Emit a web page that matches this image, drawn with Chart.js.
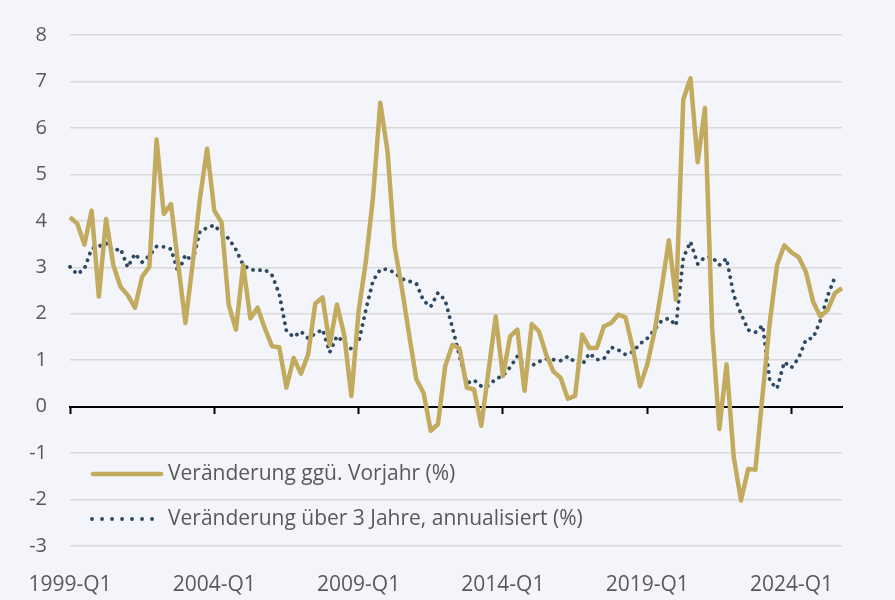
<!DOCTYPE html>
<html><head><meta charset="utf-8">
<script src="https://cdn.jsdelivr.net/npm/chart.js@4.4.1/dist/chart.umd.min.js"></script>
<style>html,body{margin:0;padding:0;background:#f4f5fa;} #c{display:block;}</style>
</head><body>
<canvas id="c" width="895" height="600"></canvas>
<script>
// ---- data ----
const quarters = [
'1999-Q1','1999-Q2','1999-Q3','1999-Q4','2000-Q1','2000-Q2','2000-Q3','2000-Q4',
'2001-Q1','2001-Q2','2001-Q3','2001-Q4','2002-Q1','2002-Q2','2002-Q3','2002-Q4',
'2003-Q1','2003-Q2','2003-Q3','2003-Q4','2004-Q1','2004-Q2','2004-Q3','2004-Q4',
'2005-Q1','2005-Q2','2005-Q3','2005-Q4','2006-Q1','2006-Q2','2006-Q3','2006-Q4',
'2007-Q1','2007-Q2','2007-Q3','2007-Q4','2008-Q1','2008-Q2','2008-Q3','2008-Q4',
'2009-Q1','2009-Q2','2009-Q3','2009-Q4','2010-Q1','2010-Q2','2010-Q3','2010-Q4',
'2011-Q1','2011-Q2','2011-Q3','2011-Q4','2012-Q1','2012-Q2','2012-Q3','2012-Q4',
'2013-Q1','2013-Q2','2013-Q3','2013-Q4','2014-Q1','2014-Q2','2014-Q3','2014-Q4',
'2015-Q1','2015-Q2','2015-Q3','2015-Q4','2016-Q1','2016-Q2','2016-Q3','2016-Q4',
'2017-Q1','2017-Q2','2017-Q3','2017-Q4','2018-Q1','2018-Q2','2018-Q3','2018-Q4',
'2019-Q1','2019-Q2','2019-Q3','2019-Q4','2020-Q1','2020-Q2','2020-Q3','2020-Q4',
'2021-Q1','2021-Q2','2021-Q3','2021-Q4','2022-Q1','2022-Q2','2022-Q3','2022-Q4',
'2023-Q1','2023-Q2','2023-Q3','2023-Q4','2024-Q1','2024-Q2','2024-Q3','2024-Q4',
'2025-Q1','2025-Q2','2025-Q3','2025-Q4'];

const tickLabels = ['1999-Q1','2004-Q1','2009-Q1','2014-Q1','2019-Q1','2024-Q1'];

const yoyLabel = 'Veränderung ggü. Vorjahr (%)';
const yoy = [
 4.08,3.94,3.49,4.22,2.37,4.04,3.05,2.58,2.40,2.13,
 2.80,3.01,5.75,4.15,4.36,3.05,1.80,3.08,4.47,5.55,
 4.22,3.97,2.19,1.66,3.05,1.90,2.13,1.69,1.30,1.28,
 0.41,1.05,0.71,1.12,2.22,2.35,1.33,2.20,1.55,0.23,
 2.05,3.12,4.51,6.54,5.51,3.44,2.55,1.55,0.59,0.30,
 -0.52,-0.38,0.87,1.33,1.25,0.41,0.37,-0.41,0.76,1.94,
 0.66,1.51,1.66,0.34,1.78,1.62,1.12,0.76,0.62,0.17,
 0.23,1.55,1.26,1.26,1.73,1.80,1.98,1.92,1.26,0.44,
 0.90,1.60,2.55,3.58,2.30,6.61,7.07,5.26,6.43,1.69,
 -0.48,0.91,-1.09,-2.02,-1.34,-1.36,0.27,1.83,3.05,3.47,
 3.32,3.22,2.90,2.26,1.94,2.08,2.44,2.55];

const threeYearLabel = 'Veränderung über 3 Jahre, annualisiert (%)';
const threeYear = [
 3.01,2.85,2.97,3.40,3.45,3.52,3.35,3.40,3.00,3.29,
 3.11,3.25,3.45,3.44,3.39,2.88,3.27,3.12,3.77,3.85,
 3.91,3.73,3.62,3.38,3.05,2.95,2.93,2.95,2.83,2.43,
 1.63,1.50,1.62,1.47,1.57,1.66,1.17,1.52,1.38,1.24,
 1.38,2.08,2.71,2.95,2.96,2.88,2.75,2.70,2.65,2.28,
 2.15,2.45,2.29,1.70,1.08,0.50,0.57,0.44,0.45,0.60,
 0.66,0.85,1.08,0.88,0.88,0.97,1.03,1.01,0.99,1.08,
 0.96,0.90,1.15,1.01,1.03,1.28,1.22,1.12,1.18,1.35,
 1.47,1.65,1.85,1.90,1.75,3.20,3.55,3.07,3.22,3.22,
 3.05,3.19,2.40,2.00,1.65,1.60,1.75,0.55,0.39,0.96,
 0.84,1.05,1.44,1.48,1.85,2.38,2.78];

// ---- style ----
const GOLD = '#c2aa5e';
const NAVY = '#2e4a63';
const TEXT = '#595959';
const BG = '#f4f5fa';
const FONT = 'Open Sans';

const bgPlugin = {
  id: 'bg',
  beforeDraw(chart) {
    const c = chart.ctx;
    c.save(); c.fillStyle = BG; c.fillRect(0, 0, chart.width, chart.height); c.restore();
  }
};

const legendPlugin = {
  id: 'insideLegend',
  afterDatasetsDraw(chart) {
    const c = chart.ctx;
    const ds = chart.data.datasets;
    c.save();
    c.strokeStyle = ds[0].borderColor; c.lineWidth = 4.5; c.lineCap = 'round';
    c.beginPath(); c.moveTo(93, 474); c.lineTo(161, 474); c.stroke();
    c.strokeStyle = ds[1].borderColor; c.lineWidth = 3.8; c.lineCap = 'round';
    c.setLineDash([0.1, 9.9]);
    c.beginPath(); c.moveTo(92, 519); c.lineTo(153, 519); c.stroke();
    c.setLineDash([]);
    c.fillStyle = TEXT; c.font = '21px "' + FONT + '"';
    c.textAlign = 'left'; c.textBaseline = 'middle';
    c.fillText(ds[0].label, 168, 474);
    c.fillText(ds[1].label, 168, 519);
    c.restore();
  }
};

new Chart(document.getElementById('c'), {
  type: 'line',
  data: {
    labels: quarters,
    datasets: [
      { label: yoyLabel, data: yoy, borderColor: GOLD, backgroundColor: GOLD, borderWidth: 4.5,
        borderJoinStyle: 'round', pointRadius: 0, tension: 0, fill: false },
      { label: threeYearLabel, data: threeYear, borderColor: NAVY, backgroundColor: NAVY, borderWidth: 3.8,
        borderDash: [0.1, 7], borderCapStyle: 'round', borderJoinStyle: 'round', pointRadius: 0, tension: 0, fill: false }
    ]
  },
  options: {
    responsive: false,
    animation: false,
    layout: { padding: { top: 32, right: 53, left: 0, bottom: 0 } },
    plugins: { legend: { display: false }, tooltip: { enabled: false } },
    scales: {
      x: {
        type: 'category', offset: false, position: 'bottom',
        grid: { display: false }, border: { display: false },
        ticks: {
          autoSkip: false, maxRotation: 0, minRotation: 0, padding: 18,
          color: TEXT, font: { family: FONT, size: 21 },
          callback: (v, i) => tickLabels.includes(quarters[i]) ? quarters[i] : null
        },
        afterFit: s => { s.height = 54; }
      },
      x0: {
        type: 'category', offset: false, position: { y: 0 },
        grid: {
          drawOnChartArea: false, drawTicks: true, tickLength: 6, tickWidth: 2,
          tickColor: ctx => tickLabels.includes(quarters[ctx.index]) ? '#000000' : 'rgba(0,0,0,0)'
        },
        border: { display: true, color: '#000000', width: 2 },
        ticks: { display: false, autoSkip: false }
      },
      y: {
        min: -3, max: 8,
        ticks: { stepSize: 1, padding: 23, color: TEXT, font: { family: FONT, size: 20 } },
        grid: { color: '#d9d9d9', lineWidth: 1.5, drawTicks: false },
        border: { display: false },
        afterFit: s => { s.width = 70; }
      }
    }
  },
  plugins: [bgPlugin, legendPlugin]
});
</script>
</body></html>
